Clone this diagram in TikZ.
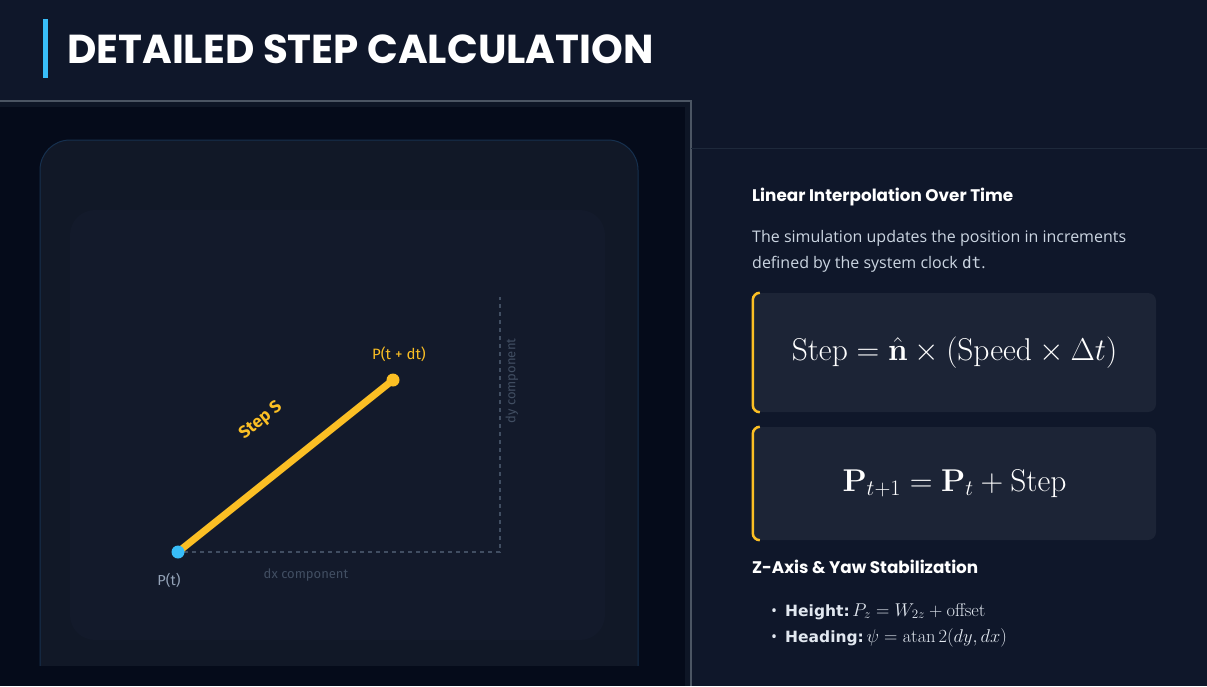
\RequirePackage{fix-cm}
\documentclass[tikz,border=0pt]{standalone}
\usepackage{amsmath}
\usepackage[no-math]{fontspec}
\setmainfont{Open Sans}
\newfontfamily\headfont{Poppins}
\newfontfamily\labelfont{Fira Sans}
\newfontfamily\codefont{DejaVu Sans Mono}
\newfontfamily\keyfont{DejaVu Sans}
\usetikzlibrary{positioning}

\definecolor{pagebg}{RGB}{15,23,42}
\definecolor{panelbg}{RGB}{5,11,26}
\definecolor{framebg}{RGB}{14,22,38}
\definecolor{cardbg}{RGB}{17,24,39}
\definecolor{innerbg}{RGB}{19,26,43}
\definecolor{cardline}{RGB}{22,48,78}
\definecolor{boxbg}{RGB}{28,36,54}
\definecolor{accent}{RGB}{56,189,248}
\definecolor{amber}{RGB}{251,191,36}
\definecolor{dimgray}{RGB}{65,78,98}
\definecolor{softgray}{RGB}{148,163,184}
\definecolor{bodytext}{RGB}{203,213,225}
\definecolor{brighttext}{RGB}{226,232,240}
\definecolor{rulecol}{RGB}{30,41,59}
\definecolor{edgecol}{RGB}{75,85,99}

\begin{document}
\begin{tikzpicture}[x=1pt,y=-1pt,
    dotnode/.style={circle,inner sep=0pt,minimum size=12pt},
    guide/.style={dimgray,line width=1.5pt,dash pattern=on 4pt off 4pt},
    stepline/.style={amber,line width=7pt,line cap=round},
    smalllabel/.style={font=\labelfont\fontsize{13}{15}\selectfont,inner sep=0pt},
    heading/.style={anchor=base west,inner sep=0pt,text=white,font=\headfont\bfseries\fontsize{16.8}{20}\selectfont},
    bodyline/.style={anchor=base west,inner sep=0pt,text=bodytext,font=\fontsize{16}{19}\selectfont},
    formbox/.style={fill=boxbg,rounded corners=8pt,minimum width=403pt,text=white,font=\fontsize{31.5}{36}\selectfont}]

  \useasboundingbox (0,0) rectangle (1207,686);
  \fill[pagebg] (0,0) rectangle (1207,686);

  \fill[accent] (43,19) rectangle (48,78);
  \node[anchor=base west,inner sep=0pt,text=white,font=\headfont\bfseries\fontsize{40.4}{44}\selectfont] (title) at (67,63) {DETAILED STEP CALCULATION};

  \fill[framebg] (0,101) rectangle (691,686);
  \fill[panelbg] (0,107) rectangle (685,686);
  \draw[edgecol,line width=1.5pt] (0,101) -- (691,101) -- (691,686);
  \draw[rulecol,line width=1pt] (691,148) -- (1207,148);

  \begin{scope}
    \clip (0,0) rectangle (691,665.5);
    \draw[fill=cardbg,draw=cardline,line width=1pt,rounded corners=30pt] (40,140) rectangle (638,720);
    \fill[innerbg,rounded corners=25pt] (70,210) rectangle (605,640);
  \end{scope}

  \node[dotnode] (ptdt) at (393,380) {};
  \node[dotnode] (pt) at (178,552) {};
  \coordinate (corner) at (500,552);
  \coordinate (dytop) at (500,297);

  \draw[guide] (pt) -- (corner) -- (dytop);
  \draw[stepline] (pt.center) -- (ptdt.center);
  \fill[amber] (ptdt) circle (6.5pt);
  \fill[accent] (pt) circle (6.5pt);

  \node[smalllabel,text=amber,font=\labelfont\fontsize{15}{17}\selectfont] (ptdtname) at (399,354) {P(t + dt)};
  \node[smalllabel,text=softgray,font=\labelfont\fontsize{14.5}{17}\selectfont] (ptname) at (169,580) {P(t)};
  \node[smalllabel,text=dimgray] (dxname) at (306,575) {dx component};
  \node[smalllabel,text=dimgray,rotate=90] (dyname) at (512,381) {dy component};
  \node[smalllabel,text=amber,font=\labelfont\bfseries\fontsize{17}{19}\selectfont,rotate=38.7] (stepname) at (261,421) {Step S};

  \node[heading] (linhead) at (752,201) {Linear Interpolation Over Time};
  \node[bodyline] (body1) at (752,242) {The simulation updates the position in increments};
  \node[bodyline] (body2) at (752,268) {defined by the system clock {\codefont dt}.};

  \node[formbox,minimum height=119pt] (stepeq) at (954.5,352.5) {$\mathrm{Step} = \hat{\mathbf{n}} \times (\mathrm{Speed} \times \Delta t)$};
  \node[formbox,minimum height=113pt] (poseq) at (954.5,483.5) {$\mathbf{P}_{t+1} = \mathbf{P}_t + \mathrm{Step}$};
  \draw[amber,line width=2.5pt,rounded corners=7pt] ([xshift=7pt]stepeq.north west) -- (stepeq.north west) -- (stepeq.south west) -- ([xshift=7pt]stepeq.south west);
  \draw[amber,line width=2.5pt,rounded corners=7pt] ([xshift=7pt]poseq.north west) -- (poseq.north west) -- (poseq.south west) -- ([xshift=7pt]poseq.south west);

  \node[heading] (zhead) at (752,573) {Z-Axis \& Yaw Stabilization};
  \node[bodyline,text=brighttext] (bullet1) at (771,616) {\textbullet\hspace{8pt}{\keyfont\bfseries\fontsize{15.5}{19}\selectfont Height:}\,{\fontsize{18.5}{20}\selectfont$P_z = W_{2z} + \mathrm{offset}$}};
  \node[bodyline,text=brighttext] (bullet2) at (771,642) {\textbullet\hspace{8pt}{\keyfont\bfseries\fontsize{15.5}{19}\selectfont Heading:}\,{\fontsize{18.5}{20}\selectfont$\psi = \operatorname{atan}2(dy, dx)$}};
\end{tikzpicture}
\end{document}
